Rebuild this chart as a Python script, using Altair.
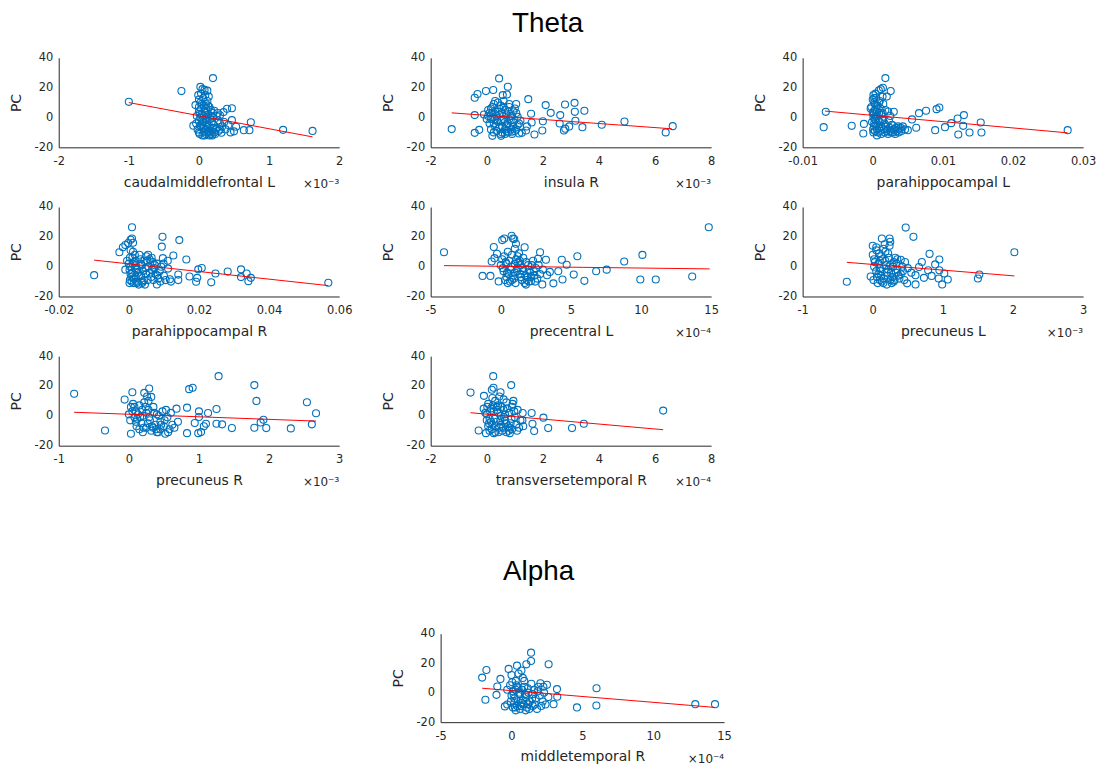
import altair as alt
import pandas as pd

# ---- data (x in the axis' displayed units, y = PC) ----
P1 = [(-1.0,10.5),(-0.25,17.7),(0.20,26.4),(1.2,-8.3),(1.62,-9.0),(0.74,-3.2),(0.72,-8.5),(0.64,-8.5),(0.50,-9.3),(0.47,-1.8),(0.47,6.2),(0.40,5.8),(0.35,3.6),(0.53,-6.2),(0.32,-10.2),(0.17,-11.0),(-0.08,-5.5),(-0.05,8.3),(0.10,9.0),(0.08,18.5),(0.02,20.5),(-0.01,15),(0.0,12),(0.05,19),(0.12,18),(0.14,14),(0.1,6),(0.2,3),(0.22,4.5),(0.25,1),(0.28,-2),(0.3,-4),(0.26,-7),(0.33,-6),(0.36,-3),(0.28,-9),(0.22,-10),(0.15,-12),(0.1,-11),(0.05,-12),(0.0,-10),(-0.02,-8),(0.03,-6),(0.06,-3),(0.0,-2),(0.02,0),(0.04,2),(0.0,4),(0.03,6),(0.07,8),(0.02,10),(0.06,13),(0.09,15),(0.12,11),(0.15,7),(0.17,5),(0.13,2),(0.1,-1),(0.18,-3),(0.14,-5),(0.2,-7),(0.1,-8),(0.07,-9.5),(0.12,-6.5),(0.2,0),(0.16,-10),(0.24,-8),(0.04,-4),(0.01,2.5),(0.08,4),(0.11,0.5),(0.05,-1.5),(-0.03,1),(0.38,-8),(0.42,-5),(0.3,1.5),(0.19,-12),(0.45,-10),
      (0.01,-11),(0.04,9),(0.06,-7),(0.09,3),(0.11,-3),(0.13,8),(0.16,-1),(0.18,1),(0.21,-5),(0.23,-11),(0.0,7),(-0.04,-4),(0.03,16),(0.08,-12),(0.14,-9),(0.27,3),(0.3,-8),(0.02,-5),(0.07,1),(0.12,-10)]
P2 = [(-1.25,-7.8),(-0.43,-10.3),(-0.27,-8.3),(-0.43,13.2),(-0.33,15.7),(-0.03,17.7),(0.23,18.4),(0.44,26.2),(0.75,20.6),(0.72,15.4),(0.57,15.0),(1.48,12.3),(1.05,9.0),(2.1,8.3),(2.28,3.1),(2.79,8.7),(3.13,9.8),(3.48,4.5),(3.14,3.8),(3.16,-2.2),(3.41,-6.5),(2.94,-6.0),(2.8,-7.5),(2.75,-8.7),(2.6,-4.0),(2.62,1.6),(2.0,-2.5),(1.98,-8.7),(4.1,-4.9),(4.91,-2.7),(6.38,-10.0),(6.63,-5.8),(1.58,2.5),(1.7,-11.4),(1.6,-3.4),(1.4,-8.7),(1.43,-6.0),(1.25,-10.3),(1.15,-10.7),(0.2,-12.3),(0.51,-12.3),(0.65,-11.0),(-0.43,1.6),(-0.1,2.0),(0.05,5),(0.1,3),(0.15,-1),(0.2,7),(0.25,9),(0.3,4),(0.35,1),(0.4,-3),(0.45,6),(0.5,8),(0.55,3),(0.6,-1),(0.65,5),(0.7,2),(0.75,-4),(0.8,7),(0.85,-2),(0.9,1),(0.95,-6),(1.0,-9),(1.05,3),(1.1,-5),(0.3,-6),(0.35,-9),(0.25,-4),(0.15,-8),(0.45,-7),(0.55,-10),(0.65,-8),(0.75,-10),(0.85,-8),(0.7,-6),(0.4,10),(0.6,11),(0.8,9),(0.2,0),(0.0,-1),(0.1,-4),(1.2,-2),(0.5,-2),(0.9,-9.5),(0.3,11),(0.05,1),(0.95,4),(1.1,0.5),
      (0.15,6),(0.35,-2),(0.45,2),(0.55,-6),(0.65,-3),(0.75,4),(0.85,1),(0.95,-3),(1.05,-8),(0.25,-10),(0.5,-11),(0.7,-9),(0.9,-11),(0.6,7),(0.4,4),(0.2,3),(1.0,6),(1.15,-4),(0.3,-1),(0.8,-1)]
P3 = [(-0.0067,3.8),(-0.0070,-6.5),(-0.0030,-5.6),(-0.00126,-4.3),(-0.00135,-10.7),(0.0018,26.4),(0.00087,18.1),(0.00115,19.0),(0.00145,19.9),(0.00256,17.7),(0.0030,3.8),(0.0056,-1.3),(0.0066,2.9),(0.0076,4.5),(0.0091,5.6),(0.0095,6.7),(0.0062,-6.9),(0.0050,-8.5),(0.0089,-8.5),(0.0103,-6.5),(0.0112,-3.8),(0.0121,-0.7),(0.0130,1.6),(0.0129,-5.6),(0.0122,-11.4),(0.0138,-10.1),(0.0154,-3.4),(0.0155,-10.1),(0.0278,-8.5),(-0.0002,7),(0.0,12),(0.0001,15),(0.0002,10),(0.0003,5),(0.0,3),(0.0001,0),(-0.0001,-3),(0.0002,-6),(0.0003,-9),(0.0004,-2),(0.0005,8),(0.0006,4),(0.0007,1),(0.0005,-5),(0.0008,-10),(0.0009,-7),(0.0010,-3),(0.0011,6),(0.0012,2),(0.0013,-1),(0.0014,14),(0.0015,9),(0.0016,-8),(0.0017,-4),(0.0018,5),(0.0020,-9),(0.0022,-11),(0.0024,-7),(0.0026,-10),(0.0028,-5),(0.0030,-8),(0.0032,-11),(0.0034,-9),(0.0036,-6),(0.0038,-8),(0.0040,-7),(0.0043,-6),(0.0046,-8),(0.0022,4),(0.0025,1),(0.0020,14),(0.0004,16),(0.0002,13),(-0.0003,6),(0.0006,-12),(0.0010,11),(0.0003,-1),(0.00005,-8),(0.0012,-11),(0.0007,8),(0.0015,-2),(0.00015,2),(0.0023,-2),(0.0027,-5),(0.0009,3),
      (0.0001,4),(0.0003,9),(0.0002,-4),(0.0006,-8),(0.0008,-2),(0.0004,1),(0.0009,10),(0.0012,-6),(0.0017,-10),(0.0019,-6),(0.0021,-8),(0.0025,-9),(0.0029,-10),(0.0033,-7),(0.0037,-10),(0.0041,-9),(0.0001,-10),(0.0005,13),(0.0011,-9),(0.0014,3)]
P4 = [(-0.0099,-5.7),(0.0009,26.4),(-0.0027,9.7),(-0.0017,13.0),(-0.0010,14.5),(-0.0002,15.8),(0.0005,18.0),(0.0009,18.9),(0.0096,20.0),(0.0094,13.4),(0.0144,17.8),(0.0127,7.5),(0.0164,4.8),(0.0097,5.7),(0.0111,4.0),(0.0141,-5.3),(0.0141,-9.0),(0.0173,-6.6),(0.0198,-1.8),(0.0208,-0.9),(0.0195,-7.5),(0.0192,-10.1),(0.0235,-10.5),(0.0247,-4.6),(0.0282,-3.3),(0.0320,-1.8),(0.0320,-7.0),(0.0336,-4.6),(0.0341,-9.7),(0.0348,-7.5),(0.0569,-10.8),(0.0080,-11.9),(0.0117,-8.4),(0.0112,-1.3),(0.0,2),(0.0002,-2),(0.0005,-5),(0.0003,-9),(0.0008,-10),(0.0010,6),(0.0012,10),(0.0015,3),(0.0018,-1),(0.0020,-7),(0.0023,-11),(0.0026,-4),(0.0030,8),(0.0033,5),(0.0036,1),(0.0040,-3),(0.0043,-9),(0.0046,-12),(0.0050,7),(0.0053,4),(0.0056,0),(0.0060,-4),(0.0064,-7),(0.0068,3),(0.0072,-1),(0.0076,-5),(0.0080,2),(0.0084,-8),(0.0088,-3),(0.0092,0),(0.0100,-6),(0.0105,-9),(0.0010,-4),(0.0015,-8),(0.0025,-10),(0.0035,-6),(0.0005,11),(-0.0005,4),(-0.0010,-2),(0.0028,-12),(0.0055,8),(0.0065,6),(0.0038,-11),(0.0120,-10),(0.0012,16),(0.0048,-1),(0.0070,-9),(0.0002,-11),(0.0020,1),
      (0.0004,0),(0.0007,-7),(0.0011,2),(0.0014,-11),(0.0019,4),(0.0024,-2),(0.0029,-6),(0.0034,2),(0.0039,-10),(0.0044,4),(0.0049,-5),(0.0054,-9),(0.0059,5),(0.0066,-2),(0.0074,1),(0.0082,-6),(0.0090,-10),(0.0099,2),(0.0003,6),(0.0017,8)]
P5 = [(-4.05,9.7),(-1.3,-6.2),(-0.74,-6.2),(-0.5,13.2),(-0.65,3.5),(-0.45,5.7),(-0.27,8.6),(-0.15,-9.9),(0.1,17.8),(0.25,18.9),(0.77,20.7),(0.87,18.9),(0.96,18.5),(1.08,15.4),(1.7,13.0),(2.8,9.7),(2.65,5.3),(3.22,4.6),(4.35,4.6),(5.46,7.0),(4.7,1.3),(4.1,-3.1),(4.4,-8.6),(5.2,-5.3),(5.96,-9.5),(6.8,-3.1),(7.55,-2.0),(8.8,3.5),(10.1,7.9),(9.95,-8.6),(11.05,-8.6),(13.65,-6.6),(14.83,26.4),(3.5,-3.5),(3.3,-5.7),(3.75,-11.2),(2.96,-11.9),(2.15,-9.7),(0.0,1),(0.2,-3),(0.4,-7),(0.6,4),(0.8,8),(1.0,2),(1.2,-1),(1.4,-5),(1.6,6),(1.8,3),(2.0,-2),(2.2,1),(2.4,-6),(2.6,-8),(0.3,-9),(0.5,-11),(0.7,-2),(0.9,-6),(1.1,5),(1.3,9),(1.5,-9),(1.7,-11),(1.9,-7),(2.1,-4),(2.3,4),(2.5,-1),(0.1,5),(0.5,10),(1.0,12),(1.4,1),(1.8,-12),(0.8,-9),(1.2,7),(1.6,-3),(2.8,-5),(3.0,-2),(0.4,2),(1.0,-4),(2.0,-10),(2.7,1),
      (0.15,-1),(0.35,3),(0.55,-5),(0.75,0),(0.95,-8),(1.15,-3),(1.35,4),(1.55,-1),(1.75,-6),(1.95,1),(2.15,-7),(2.35,-3),(0.25,7),(0.65,-10),(1.05,-11),(1.45,-7),(1.85,-9),(2.45,-10),(0.45,-4),(1.25,3)]
P6 = [(-0.37,-10.1),(-0.03,-6.6),(0.0,14.0),(0.13,18.9),(0.24,18.9),(0.25,16.7),(0.24,14.0),(0.47,26.2),(0.58,20.0),(0.81,8.6),(0.95,4.8),(0.89,1.5),(0.95,-2.4),(1.02,-4.6),(0.94,-7.9),(0.99,-11.9),(1.07,-8.6),(1.5,-7.9),(1.52,-5.3),(2.02,9.7),(0.7,3.1),(0.66,-0.2),(0.73,-7.5),(0.61,-11.9),(0.49,-11.2),(0.84,-6.2),(0.79,-2.4),(0.61,-5.7),(0.4,4.6),(0.46,3.1),(0.0,8),(0.02,5),(0.05,11),(0.08,2),(0.1,-1),(0.12,7),(0.15,12),(0.18,4),(0.2,-4),(0.22,9),(0.25,1),(0.28,-7),(0.3,-10),(0.32,6),(0.35,-2),(0.38,-8),(0.4,-5),(0.42,0),(0.45,-9),(0.05,-3),(0.1,-9),(0.15,-11),(0.2,-12),(0.25,-9),(0.12,-6),(0.3,3),(0.05,13),(0.17,15),(0.08,-5),(0.22,-2),(0.27,-11),(0.35,5),(0.5,-1),(0.55,-4),(0.02,0),(0.33,-4),
      (0.03,3),(0.06,-7),(0.09,9),(0.11,-3),(0.14,5),(0.16,-8),(0.19,1),(0.21,-6),(0.23,6),(0.26,-4),(0.29,0),(0.31,-9),(0.34,2),(0.37,-6),(0.43,-3),(0.01,-9),(0.07,-11),(0.13,-10),(0.18,10),(0.1,4)]
P7 = [(-0.78,14.8),(-0.34,-9.8),(-0.06,10.9),(0.05,15.8),(0.03,-12.0),(0.22,15.4),(0.29,18.3),(0.32,12.7),(1.28,26.6),(0.86,17.9),(0.91,18.8),(0.68,4.8),(0.83,5.5),(0.83,-11.6),(0.94,-4.8),(1.0,-0.8),(1.0,3.0),(0.99,-11.6),(1.03,-10.9),(1.07,-7.0),(1.1,-5.3),(1.13,1.9),(1.25,4.6),(1.25,-5.3),(1.33,-5.7),(1.47,-8.2),(1.79,-8.0),(1.79,20.6),(1.82,10.0),(1.88,-4.4),(1.92,-2.6),(1.96,-8.2),(2.31,-8.4),(2.54,9.1),(2.61,-5.7),(2.67,1.7),(0.52,-12.0),(0.0,1),(0.03,6),(0.06,8),(0.1,3),(0.12,-2),(0.15,7),(0.18,-5),(0.2,0),(0.22,9),(0.25,-8),(0.28,4),(0.3,-3),(0.32,-10),(0.35,6),(0.38,-6),(0.4,1),(0.42,-11),(0.45,-4),(0.48,3),(0.5,-7),(0.55,-1),(0.58,-9),(0.6,2),(0.1,-4),(0.15,-9),(0.2,-11),(0.28,10),(0.35,-8),(0.4,-11),(0.08,-1),(0.25,2),(0.45,-9),(0.53,4),(0.7,-4),(0.65,-8),
      (0.02,-3),(0.05,3),(0.08,6),(0.11,-7),(0.13,1),(0.16,-1),(0.19,4),(0.21,-8),(0.24,6),(0.27,-5),(0.29,-1),(0.33,-7),(0.36,2),(0.39,-9),(0.43,0),(0.46,-6),(0.51,-3),(0.56,-11),(0.62,-6),(0.26,13)]
P8 = [(-0.58,15.6),(-0.29,-9.8),(-0.03,-11.6),(-0.1,13.4),(-0.11,4.8),(0.23,26.6),(0.24,18.8),(0.18,17.5),(0.49,15.8),(0.87,20.6),(0.25,-11.6),(0.95,10.0),(0.92,8.0),(1.28,1.9),(1.27,-3.0),(1.6,1.9),(1.63,-5.3),(1.69,-10.2),(2.02,-1.2),(2.19,-8.2),(3.04,-8.2),(3.46,-5.3),(6.29,3.5),(0.82,-11.6),(0.0,1),(0.05,8),(0.1,-2),(0.15,5),(0.2,-6),(0.25,3),(0.3,10),(0.35,-4),(0.4,7),(0.45,-8),(0.5,0),(0.55,-10),(0.6,4),(0.65,-3),(0.7,9),(0.75,-7),(0.8,2),(0.85,-5),(0.9,-9),(1.0,-1),(1.05,-6),(1.1,4),(1.15,-8),(1.2,-3),(0.05,-7),(0.1,-10),(0.2,12),(0.3,-11),(0.4,2),(0.5,-6),(0.6,11),(0.7,-11),(0.8,-8),(0.15,-4),(0.35,6),(0.45,13),(0.65,1),(0.0,-3),(0.9,6),(1.3,-7),
      (-0.05,2),(0.02,6),(0.08,-5),(0.12,3),(0.18,-9),(0.22,7),(0.28,-2),(0.32,-7),(0.38,4),(0.42,-11),(0.48,-3),(0.52,6),(0.58,-8),(0.62,-1),(0.68,-5),(0.72,5),(0.78,-10),(0.88,-2),(0.98,3),(1.08,-10)]
PA = [(-2.07,10.2),(-1.77,15.4),(-1.84,-4.8),(-1.06,-1.5),(-1.0,4.2),(-0.78,9.3),(-0.47,-9.3),(-0.3,-8),(-0.2,16.1),(0.39,18.3),(1.05,19.2),(1.38,27.1),(1.38,21.5),(2.62,19.2),(2.04,6.4),(2.5,5.3),(3.21,2.4),(3.23,-2.8),(2.97,-7.8),(4.62,-10.0),(6.0,3.0),(5.99,-8.7),(12.97,-7.8),(14.36,-7.8),(-0.1,5),(0.0,12),(0.1,1),(0.2,-4),(0.3,8),(0.4,-9),(0.5,3),(0.6,-1),(0.7,-7),(0.8,10),(0.9,4),(1.0,-3),(1.1,-10),(1.2,0),(1.3,-6),(1.4,6),(1.5,-9),(1.6,2),(1.7,-4),(1.8,-11),(1.9,4),(2.0,-2),(2.2,-6),(2.4,-8),(2.6,-3),(0.1,-10),(0.3,-12),(0.5,13),(0.7,15),(0.2,-7),(0.6,-11),(1.0,-12),(0.4,4),(0.8,-5),(0.0,-2),(1.2,-8),(0.9,8),(1.5,-1),(0.3,2),(2.3,0),
      (-0.3,2),(-0.05,-6),(0.05,7),(0.15,-1),(0.25,-10),(0.35,5),(0.45,-6),(0.55,0),(0.65,-9),(0.75,2),(0.85,-8),(0.95,-1),(1.05,-6),(1.15,3),(1.25,-11),(1.45,-4),(1.65,-8),(1.85,1),(2.1,-9),(2.25,4)]

# regression line end points
L1 = [(-1.0, 10.0), (1.62, -13.0)]
L2 = [(-1.25, 3.1), (6.6, -7.6)]
L3 = [(-0.0068, 4.3), (0.0278, -10.3)]
L4 = [(-0.0099, 4.4), (0.0569, -12.7)]
L5 = [(-4.05, 0.7), (14.9, -1.5)]
L6 = [(-0.37, 2.9), (2.02, -6.2)]
L7 = [(-0.78, 2.4), (2.67, -3.5)]
L8 = [(-0.58, 2.1), (6.29, -9.3)]
LA = [(-2.07, 3.0), (14.36, -10.0)]

TITLES = ["caudalmiddlefrontal L", "insula R", "parahippocampal L", "parahippocampal R",
          "precentral L", "precuneus L", "precuneus R", "transversetemporal R", "middletemporal R"]
XDOMAINS = [[-2, 2], [-2, 8], [-0.01, 0.03], [-0.02, 0.06], [-5, 15], [-1, 3], [-1, 3], [-2, 8], [-5, 15]]
XTICKS = [[-2, -1, 0, 1, 2], [-2, 0, 2, 4, 6, 8], [-0.01, 0, 0.01, 0.02, 0.03],
          [-0.02, 0, 0.02, 0.04, 0.06], [-5, 0, 5, 10, 15], [-1, 0, 1, 2, 3],
          [-1, 0, 1, 2, 3], [-2, 0, 2, 4, 6, 8], [-5, 0, 5, 10, 15]]
EXPONENTS = ["×10⁻³", "×10⁻³", "", "", "×10⁻⁴", "×10⁻³", "×10⁻³", "×10⁻⁴", "×10⁻⁴"]
YTICKS = [-20, 0, 20, 40]

BLUE = "#0072BD"
INK = "#262626"
MINUS_FIX = "replace(datum.label, '\u2212', '-')"


def panel(points, line, xdom, xticks, xtitle, exp, w=282, h=90, title=None):
    df = pd.DataFrame(points, columns=["x", "y"])
    ldf = pd.DataFrame(line, columns=["x", "y"])
    xs = alt.Scale(domain=xdom, nice=False, zero=False)
    ys = alt.Scale(domain=[-20, 40], nice=False, zero=False)
    xa = alt.Axis(values=xticks, title=xtitle, format="~f", labelExpr=MINUS_FIX,
                  labelPadding=8, titlePadding=8.5)
    ya = alt.Axis(values=YTICKS, title="PC", format="~f", labelExpr=MINUS_FIX,
                  labelPadding=6, titlePadding=11)
    pts = alt.Chart(df).mark_point(shape="circle", filled=False, size=50,
                                   strokeWidth=1.1, color=BLUE, opacity=1).encode(
        x=alt.X("x:Q", scale=xs, axis=xa), y=alt.Y("y:Q", scale=ys, axis=ya))
    ln = alt.Chart(ldf).mark_line(color="#FF0000", strokeWidth=1).encode(
        x=alt.X("x:Q", scale=xs, axis=xa), y=alt.Y("y:Q", scale=ys, axis=ya))
    layers = [pts, ln]
    if exp:
        tdf = pd.DataFrame({"t": [exp]})
        txt = alt.Chart(tdf).mark_text(align="right", baseline="middle", fontSize=12,
                                       font="DejaVu Sans", color=INK).encode(
            x=alt.value(w), y=alt.value(h + 37), text="t:N")
        layers.append(txt)
    props = dict(width=w, height=h)
    if title is not None:
        props["title"] = title
    return alt.layer(*layers).properties(**props)


pts_all = [P1, P2, P3, P4, P5, P6, P7, P8, PA]
lines_all = [L1, L2, L3, L4, L5, L6, L7, L8, LA]
panels = [panel(pts_all[i], lines_all[i], XDOMAINS[i], XTICKS[i], TITLES[i], EXPONENTS[i])
          for i in range(8)]

row1 = alt.hconcat(panels[0], panels[1], panels[2], spacing=92, bounds="flush")
row2 = alt.hconcat(panels[3], panels[4], panels[5], spacing=92, bounds="flush")
row3 = alt.hconcat(panels[6], panels[7], spacing=92, bounds="flush")
theta = alt.vconcat(row1, row2, row3, spacing=11)

alpha_panel = panel(PA, LA, XDOMAINS[8], XTICKS[8], TITLES[8], EXPONENTS[8], w=285, h=89,
                    title=alt.TitleParams("Alpha", fontSize=28, font="Liberation Sans",
                                          fontWeight="normal", color="black", anchor="middle",
                                          offset=42, dx=-44))
spacer = alt.Chart(pd.DataFrame({"v": [0]})).mark_point(opacity=0, size=1).encode(
    x=alt.value(0), y=alt.value(0)).properties(width=1, height=89)
alpha_row = alt.hconcat(spacer, alpha_panel, spacing=383, bounds="flush")

chart = alt.vconcat(theta, alpha_row, spacing=70).properties(
    title=alt.TitleParams("Theta", fontSize=28, font="Liberation Sans", fontWeight="normal",
                          color="black", anchor="middle", offset=14, dx=-5),
    padding={"top": 0, "left": 1, "right": 5, "bottom": 0},
).configure_view(strokeOpacity=0).configure_axis(
    grid=False, ticks=False, tickSize=0, domainColor=INK, domainWidth=1,
    labelColor=INK, titleColor=INK, labelFont="DejaVu Sans", titleFont="DejaVu Sans",
    labelFontSize=11.5, titleFontSize=14, titleFontWeight="normal",
    labelFlush=False, labelOverlap=False, labelBound=False,
)

chart.save("out.html", embed_options={"renderer": "svg", "actions": False})
